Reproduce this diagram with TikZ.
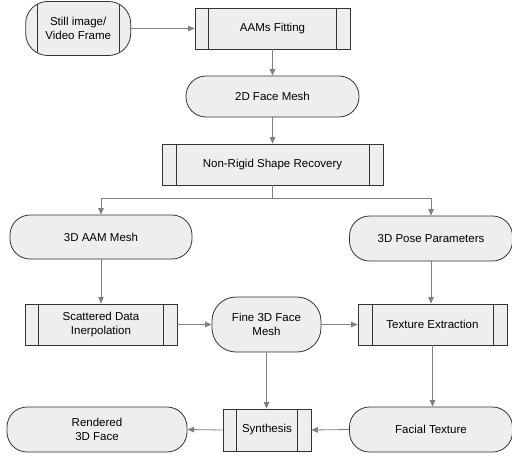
\documentclass[tikz,border=0pt]{standalone}
\usepackage{fontspec}
\setmainfont{Liberation Sans}
\usetikzlibrary{arrows.meta}
\definecolor{boxfill}{HTML}{EEEEEE}
\definecolor{boxline}{HTML}{333333}
\definecolor{arrowc}{HTML}{808080}
\tikzset{
  base/.style={draw=boxline, fill=boxfill, line width=0.8pt, align=center,
    font=\fontsize{11.5}{14}\selectfont, inner sep=0pt},
  inlines/.style={path picture={
    \draw[boxline,line width=0.8pt] ([xshift=#1]path picture bounding box.north west) -- ([xshift=#1]path picture bounding box.south west);
    \draw[boxline,line width=0.8pt] ([xshift=-#1]path picture bounding box.north east) -- ([xshift=-#1]path picture bounding box.south east);}},
  proc/.style={base, rectangle, inlines=#1},
  proc/.default=13.5pt,
  term/.style={base, rectangle, rounded corners=#1},
  term/.default=20pt,
  conn/.style={draw=arrowc, line width=0.8pt, -{Triangle[length=6.5pt,width=5.5pt]}}
}
\begin{document}
\begin{tikzpicture}[x=1pt,y=-1pt]
\useasboundingbox (0,0) rectangle (512,456);
\node[term=22pt, inlines=11.5pt, minimum width=105pt, minimum height=54pt] (still) at (78.2,28.5) {Still image/\\Video Frame};
\node[proc, minimum width=155pt, minimum height=41pt] (aam) at (272.5,28.5) {AAMs Fitting};
\node[term, minimum width=173pt, minimum height=41pt] (mesh2d) at (272.5,96.5) {2D Face Mesh};
\node[proc=14pt, minimum width=221pt, minimum height=41pt] (nonrigid) at (272.5,164.5) {Non-Rigid Shape Recovery};
\node[term, minimum width=182pt, minimum height=44pt] (aam3d) at (101,237) {3D AAM Mesh};
\node[term, minimum width=163pt, minimum height=45pt] (pose) at (431,238.5) {3D Pose Parameters};
\node[proc, minimum width=152pt, minimum height=41pt] (scatter) at (101,324.5) {Scattered Data\\Inerpolation};
\node[term=24pt, minimum width=109pt, minimum height=55pt] (fine) at (266.5,324.5) {Fine 3D Face\\Mesh};
\node[proc=14pt, minimum width=149pt, minimum height=41pt] (texture) at (432.5,324.5) {Texture Extraction};
\node[proc, minimum width=88pt, minimum height=42pt] (synth) at (267,430) {Synthesis};
\node[term, minimum width=180pt, minimum height=45pt] (rendered) at (97,429.5) {Rendered\\3D Face};
\node[term, minimum width=163pt, minimum height=45pt] (facial) at (431,429.5) {Facial Texture};
\coordinate (split) at (272.5,198);
\draw[conn] (still.east) -- (aam.west);
\draw[conn] (aam.south) -- (mesh2d.north);
\draw[conn] (mesh2d.south) -- (nonrigid.north);
\draw[draw=arrowc, line width=0.8pt] (nonrigid.south) -- (split);
\draw[conn] (split) -| (aam3d.north);
\draw[conn] (split) -| (pose.north);
\draw[conn] (aam3d.south) -- (scatter.north);
\draw[conn] (pose.south) -- (pose.south |- texture.north);
\draw[conn] (scatter.east) -- (fine.west);
\draw[conn] (fine.east) -- (texture.west);
\draw[conn] (texture.south) -- (texture.south |- facial.north);
\draw[conn] (fine.south) -- (fine.south |- synth.north);
\draw[conn] (facial.west) -- (synth.east);
\draw[conn] (synth.west) -- (rendered.east);
\end{tikzpicture}
\end{document}
